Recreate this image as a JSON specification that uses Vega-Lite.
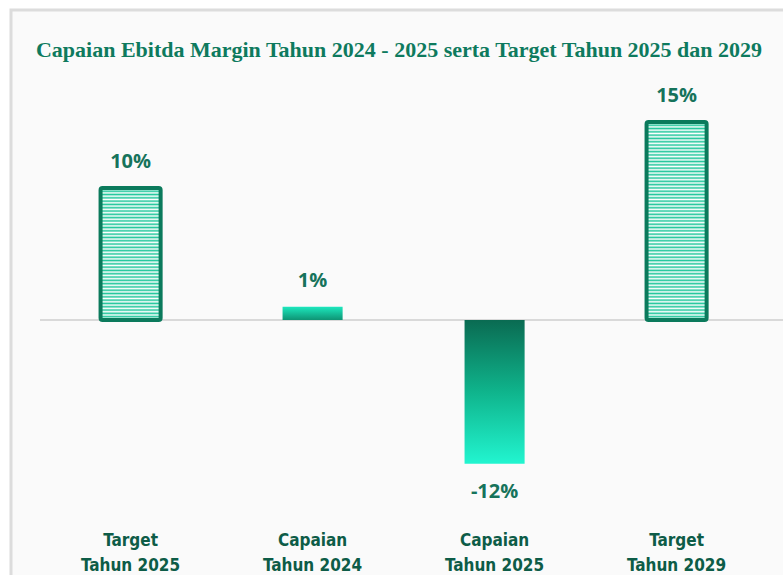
{
  "$schema": "https://vega.github.io/schema/vega-lite/v6.json",
  "width": 776,
  "height": 568,
  "autosize": {"type": "none"},
  "padding": {"left": 11, "top": 10, "right": 0, "bottom": 0},
  "background": "white",
  "view": {"fill": "#fafafa", "stroke": "#dcdcdc", "strokeWidth": 3},
  "title": {
    "text": "Capaian Ebitda Margin Tahun 2024 - 2025 serta Target Tahun 2025 dan 2029",
    "font": "Liberation Serif",
    "fontWeight": "bold",
    "fontSize": 22,
    "color": "#0e7a5e",
    "anchor": "middle",
    "frame": "group",
    "baseline": "top",
    "offset": -52
  },
  "data": {
    "values": [
      {"cat": "Target|Tahun 2025", "value": 10, "label": "10%", "jenis": "Target"},
      {"cat": "Capaian|Tahun 2024", "value": 1, "label": "1%", "jenis": "Capaian"},
      {"cat": "Capaian|Tahun 2025", "value": -10.9, "label": "-12%", "jenis": "Capaian"},
      {"cat": "Target|Tahun 2029", "value": 15, "label": "15%", "jenis": "Target"}
    ]
  },
  "layer": [
    {
      "data": {"values": [{"nol": 0}]},
      "mark": {"type": "rule", "color": "#d9d9d9", "strokeWidth": 2, "strokeDash": [747, 100]},
      "encoding": {
        "y": {"field": "nol", "type": "quantitative", "scale": {"domain": [-19.55, 23.48], "nice": false, "zero": false}, "axis": null}
      }
    },
    {
      "encoding": {
        "x": {
          "field": "cat",
          "type": "nominal",
          "scale": {
            "domain": ["Target|Tahun 2025", "Capaian|Tahun 2024", "Capaian|Tahun 2025", "Target|Tahun 2029"],
            "paddingInner": 0.67,
            "paddingOuter": 0.4669,
            "align": 0.527
          },
          "axis": {
            "title": null,
            "domain": false,
            "ticks": false,
            "grid": false,
            "labelAngle": 0,
            "labelExpr": "split(datum.label, '|')",
            "labelFont": "DejaVu Sans Condensed",
            "labelFontSize": 17,
            "labelFontWeight": "bold",
            "labelColor": "#0d5c47",
            "labelLineHeight": 25,
            "labelBaseline": "top",
            "labelPadding": 0,
            "offset": -46
          }
        },
        "y": {"field": "value", "type": "quantitative", "scale": {"domain": [-19.55, 23.48], "nice": false, "zero": false}, "axis": null},
        "y2": {"datum": 0}
      },
      "layer": [
        {
          "transform": [{"filter": "datum.cat == 'Target|Tahun 2025'"}],
          "mark": {
            "type": "bar",
            "stroke": "#0b7a5c",
            "strokeWidth": 4,
            "cornerRadius": 2,
            "fill": {
              "gradient": "linear", "x1": 0, "y1": 0, "x2": 0, "y2": 1,
              "stops": [
                {"offset": 0, "color": "#22c79c"}, {"offset": 0.0125, "color": "#fff"}, {"offset": 0.025, "color": "#22c79c"}, {"offset": 0.0375, "color": "#fff"}, {"offset": 0.05, "color": "#22c79c"}, {"offset": 0.0625, "color": "#fff"}, {"offset": 0.075, "color": "#22c79c"}, {"offset": 0.0875, "color": "#fff"},
                {"offset": 0.1, "color": "#22c79c"}, {"offset": 0.1125, "color": "#fff"}, {"offset": 0.125, "color": "#22c79c"}, {"offset": 0.1375, "color": "#fff"}, {"offset": 0.15, "color": "#22c79c"}, {"offset": 0.1625, "color": "#fff"}, {"offset": 0.175, "color": "#22c79c"}, {"offset": 0.1875, "color": "#fff"},
                {"offset": 0.2, "color": "#22c79c"}, {"offset": 0.2125, "color": "#fff"}, {"offset": 0.225, "color": "#22c79c"}, {"offset": 0.2375, "color": "#fff"}, {"offset": 0.25, "color": "#22c79c"}, {"offset": 0.2625, "color": "#fff"}, {"offset": 0.275, "color": "#22c79c"}, {"offset": 0.2875, "color": "#fff"},
                {"offset": 0.3, "color": "#22c79c"}, {"offset": 0.3125, "color": "#fff"}, {"offset": 0.325, "color": "#22c79c"}, {"offset": 0.3375, "color": "#fff"}, {"offset": 0.35, "color": "#22c79c"}, {"offset": 0.3625, "color": "#fff"}, {"offset": 0.375, "color": "#22c79c"}, {"offset": 0.3875, "color": "#fff"},
                {"offset": 0.4, "color": "#22c79c"}, {"offset": 0.4125, "color": "#fff"}, {"offset": 0.425, "color": "#22c79c"}, {"offset": 0.4375, "color": "#fff"}, {"offset": 0.45, "color": "#22c79c"}, {"offset": 0.4625, "color": "#fff"}, {"offset": 0.475, "color": "#22c79c"}, {"offset": 0.4875, "color": "#fff"},
                {"offset": 0.5, "color": "#22c79c"}, {"offset": 0.5125, "color": "#fff"}, {"offset": 0.525, "color": "#22c79c"}, {"offset": 0.5375, "color": "#fff"}, {"offset": 0.55, "color": "#22c79c"}, {"offset": 0.5625, "color": "#fff"}, {"offset": 0.575, "color": "#22c79c"}, {"offset": 0.5875, "color": "#fff"},
                {"offset": 0.6, "color": "#22c79c"}, {"offset": 0.6125, "color": "#fff"}, {"offset": 0.625, "color": "#22c79c"}, {"offset": 0.6375, "color": "#fff"}, {"offset": 0.65, "color": "#22c79c"}, {"offset": 0.6625, "color": "#fff"}, {"offset": 0.675, "color": "#22c79c"}, {"offset": 0.6875, "color": "#fff"},
                {"offset": 0.7, "color": "#22c79c"}, {"offset": 0.7125, "color": "#fff"}, {"offset": 0.725, "color": "#22c79c"}, {"offset": 0.7375, "color": "#fff"}, {"offset": 0.75, "color": "#22c79c"}, {"offset": 0.7625, "color": "#fff"}, {"offset": 0.775, "color": "#22c79c"}, {"offset": 0.7875, "color": "#fff"},
                {"offset": 0.8, "color": "#22c79c"}, {"offset": 0.8125, "color": "#fff"}, {"offset": 0.825, "color": "#22c79c"}, {"offset": 0.8375, "color": "#fff"}, {"offset": 0.85, "color": "#22c79c"}, {"offset": 0.8625, "color": "#fff"}, {"offset": 0.875, "color": "#22c79c"}, {"offset": 0.8875, "color": "#fff"},
                {"offset": 0.9, "color": "#22c79c"}, {"offset": 0.9125, "color": "#fff"}, {"offset": 0.925, "color": "#22c79c"}, {"offset": 0.9375, "color": "#fff"}, {"offset": 0.95, "color": "#22c79c"}, {"offset": 0.9625, "color": "#fff"}, {"offset": 0.975, "color": "#22c79c"}, {"offset": 0.9875, "color": "#fff"},
                {"offset": 1, "color": "#22c79c"}
              ]
            }
          }
        },
        {
          "transform": [{"filter": "datum.cat == 'Target|Tahun 2029'"}],
          "mark": {
            "type": "bar",
            "stroke": "#0b7a5c",
            "strokeWidth": 4,
            "cornerRadius": 2,
            "fill": {
              "gradient": "linear", "x1": 0, "y1": 0, "x2": 0, "y2": 1,
              "stops": [
                {"offset": 0, "color": "#22c79c"}, {"offset": 0.00833, "color": "#fff"}, {"offset": 0.01667, "color": "#22c79c"}, {"offset": 0.025, "color": "#fff"}, {"offset": 0.03333, "color": "#22c79c"}, {"offset": 0.04167, "color": "#fff"}, {"offset": 0.05, "color": "#22c79c"}, {"offset": 0.05833, "color": "#fff"}, {"offset": 0.06667, "color": "#22c79c"}, {"offset": 0.075, "color": "#fff"}, {"offset": 0.08333, "color": "#22c79c"}, {"offset": 0.09167, "color": "#fff"},
                {"offset": 0.1, "color": "#22c79c"}, {"offset": 0.10833, "color": "#fff"}, {"offset": 0.11667, "color": "#22c79c"}, {"offset": 0.125, "color": "#fff"}, {"offset": 0.13333, "color": "#22c79c"}, {"offset": 0.14167, "color": "#fff"}, {"offset": 0.15, "color": "#22c79c"}, {"offset": 0.15833, "color": "#fff"}, {"offset": 0.16667, "color": "#22c79c"}, {"offset": 0.175, "color": "#fff"}, {"offset": 0.18333, "color": "#22c79c"}, {"offset": 0.19167, "color": "#fff"},
                {"offset": 0.2, "color": "#22c79c"}, {"offset": 0.20833, "color": "#fff"}, {"offset": 0.21667, "color": "#22c79c"}, {"offset": 0.225, "color": "#fff"}, {"offset": 0.23333, "color": "#22c79c"}, {"offset": 0.24167, "color": "#fff"}, {"offset": 0.25, "color": "#22c79c"}, {"offset": 0.25833, "color": "#fff"}, {"offset": 0.26667, "color": "#22c79c"}, {"offset": 0.275, "color": "#fff"}, {"offset": 0.28333, "color": "#22c79c"}, {"offset": 0.29167, "color": "#fff"},
                {"offset": 0.3, "color": "#22c79c"}, {"offset": 0.30833, "color": "#fff"}, {"offset": 0.31667, "color": "#22c79c"}, {"offset": 0.325, "color": "#fff"}, {"offset": 0.33333, "color": "#22c79c"}, {"offset": 0.34167, "color": "#fff"}, {"offset": 0.35, "color": "#22c79c"}, {"offset": 0.35833, "color": "#fff"}, {"offset": 0.36667, "color": "#22c79c"}, {"offset": 0.375, "color": "#fff"}, {"offset": 0.38333, "color": "#22c79c"}, {"offset": 0.39167, "color": "#fff"},
                {"offset": 0.4, "color": "#22c79c"}, {"offset": 0.40833, "color": "#fff"}, {"offset": 0.41667, "color": "#22c79c"}, {"offset": 0.425, "color": "#fff"}, {"offset": 0.43333, "color": "#22c79c"}, {"offset": 0.44167, "color": "#fff"}, {"offset": 0.45, "color": "#22c79c"}, {"offset": 0.45833, "color": "#fff"}, {"offset": 0.46667, "color": "#22c79c"}, {"offset": 0.475, "color": "#fff"}, {"offset": 0.48333, "color": "#22c79c"}, {"offset": 0.49167, "color": "#fff"},
                {"offset": 0.5, "color": "#22c79c"}, {"offset": 0.50833, "color": "#fff"}, {"offset": 0.51667, "color": "#22c79c"}, {"offset": 0.525, "color": "#fff"}, {"offset": 0.53333, "color": "#22c79c"}, {"offset": 0.54167, "color": "#fff"}, {"offset": 0.55, "color": "#22c79c"}, {"offset": 0.55833, "color": "#fff"}, {"offset": 0.56667, "color": "#22c79c"}, {"offset": 0.575, "color": "#fff"}, {"offset": 0.58333, "color": "#22c79c"}, {"offset": 0.59167, "color": "#fff"},
                {"offset": 0.6, "color": "#22c79c"}, {"offset": 0.60833, "color": "#fff"}, {"offset": 0.61667, "color": "#22c79c"}, {"offset": 0.625, "color": "#fff"}, {"offset": 0.63333, "color": "#22c79c"}, {"offset": 0.64167, "color": "#fff"}, {"offset": 0.65, "color": "#22c79c"}, {"offset": 0.65833, "color": "#fff"}, {"offset": 0.66667, "color": "#22c79c"}, {"offset": 0.675, "color": "#fff"}, {"offset": 0.68333, "color": "#22c79c"}, {"offset": 0.69167, "color": "#fff"},
                {"offset": 0.7, "color": "#22c79c"}, {"offset": 0.70833, "color": "#fff"}, {"offset": 0.71667, "color": "#22c79c"}, {"offset": 0.725, "color": "#fff"}, {"offset": 0.73333, "color": "#22c79c"}, {"offset": 0.74167, "color": "#fff"}, {"offset": 0.75, "color": "#22c79c"}, {"offset": 0.75833, "color": "#fff"}, {"offset": 0.76667, "color": "#22c79c"}, {"offset": 0.775, "color": "#fff"}, {"offset": 0.78333, "color": "#22c79c"}, {"offset": 0.79167, "color": "#fff"},
                {"offset": 0.8, "color": "#22c79c"}, {"offset": 0.80833, "color": "#fff"}, {"offset": 0.81667, "color": "#22c79c"}, {"offset": 0.825, "color": "#fff"}, {"offset": 0.83333, "color": "#22c79c"}, {"offset": 0.84167, "color": "#fff"}, {"offset": 0.85, "color": "#22c79c"}, {"offset": 0.85833, "color": "#fff"}, {"offset": 0.86667, "color": "#22c79c"}, {"offset": 0.875, "color": "#fff"}, {"offset": 0.88333, "color": "#22c79c"}, {"offset": 0.89167, "color": "#fff"},
                {"offset": 0.9, "color": "#22c79c"}, {"offset": 0.90833, "color": "#fff"}, {"offset": 0.91667, "color": "#22c79c"}, {"offset": 0.925, "color": "#fff"}, {"offset": 0.93333, "color": "#22c79c"}, {"offset": 0.94167, "color": "#fff"}, {"offset": 0.95, "color": "#22c79c"}, {"offset": 0.95833, "color": "#fff"}, {"offset": 0.96667, "color": "#22c79c"}, {"offset": 0.975, "color": "#fff"}, {"offset": 0.98333, "color": "#22c79c"}, {"offset": 0.99167, "color": "#fff"},
                {"offset": 1, "color": "#22c79c"}
              ]
            }
          }
        },
        {
          "transform": [{"filter": "datum.cat == 'Capaian|Tahun 2024'"}],
          "mark": {
            "type": "bar",
            "fill": {
              "gradient": "linear", "x1": 0, "y1": 0, "x2": 0, "y2": 1,
              "stops": [{"offset": 0, "color": "#1de8be"}, {"offset": 1, "color": "#0e9474"}]
            }
          }
        },
        {
          "transform": [{"filter": "datum.cat == 'Capaian|Tahun 2025'"}],
          "mark": {
            "type": "bar",
            "fill": {
              "gradient": "linear", "x1": 0, "y1": 0, "x2": 0, "y2": 1,
              "stops": [{"offset": 0, "color": "#0a6b52"}, {"offset": 0.5, "color": "#0fb48c"}, {"offset": 1, "color": "#22f5d0"}]
            }
          }
        },
        {
          "transform": [{"filter": "datum.value > 0"}],
          "mark": {"type": "text", "dy": -26, "baseline": "middle", "font": "Open Sans", "fontWeight": "bold", "fontSize": 20, "color": "#16735b"},
          "encoding": {"text": {"field": "label"}, "y2": null}
        },
        {
          "transform": [{"filter": "datum.value < 0"}],
          "mark": {"type": "text", "dy": 28, "baseline": "middle", "font": "Open Sans", "fontWeight": "bold", "fontSize": 20, "color": "#16735b"},
          "encoding": {"text": {"field": "label"}, "y2": null}
        }
      ]
    }
  ]
}
